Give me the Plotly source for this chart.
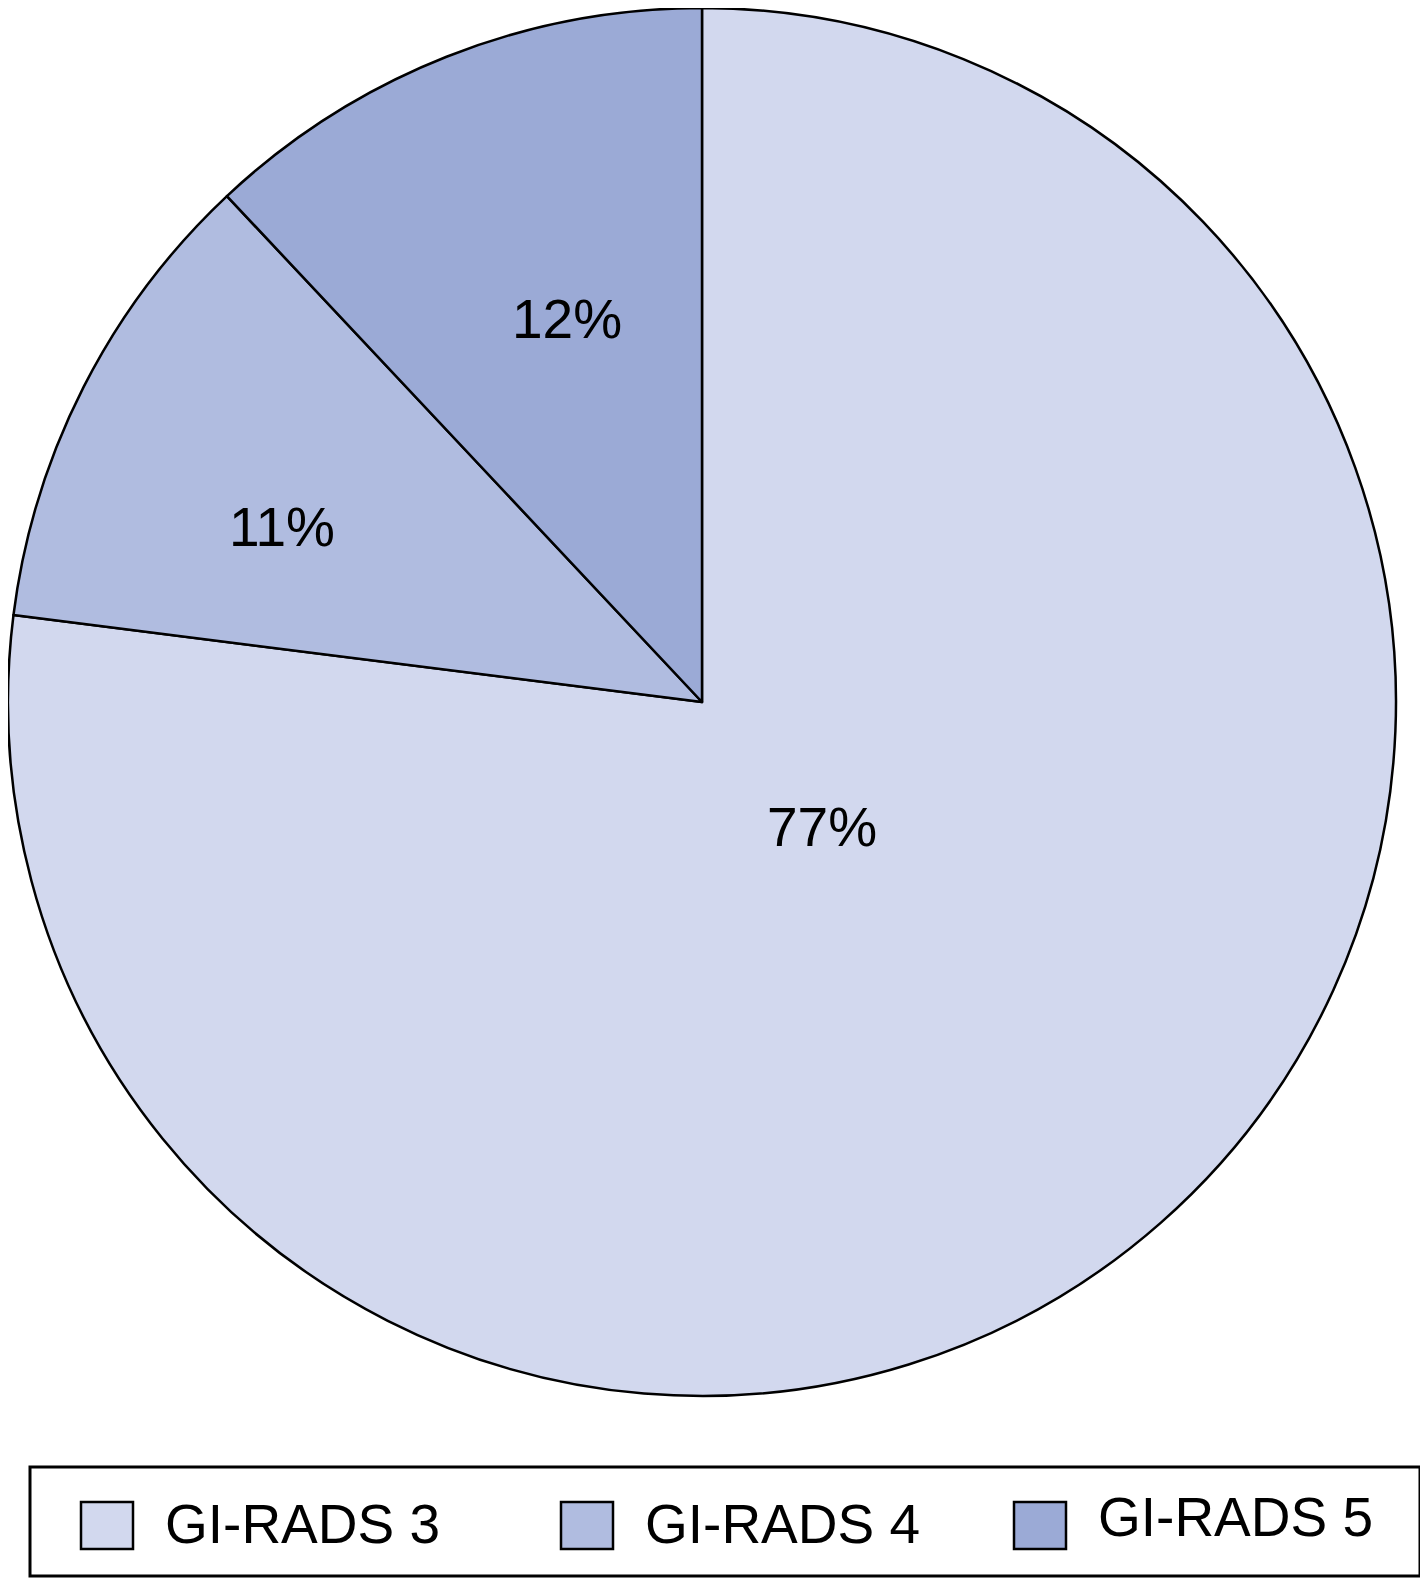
import math

import plotly.graph_objects as go

# ── Data ──────────────────────────────────────────────────────────────────────
CATEGORIES = ["GI-RADS 3", "GI-RADS 4", "GI-RADS 5"]
SHARES = [77, 11, 12]
COLORS = ["#D2D8EE", "#B0BCE0", "#9BAAD6"]

# page body adds an 8px margin, so the figure is a bit smaller than the window
OFF = 8
W, H = 1428 - OFF, 1579 - OFF
FONT = "Liberation Sans, Arial, sans-serif"

# pie geometry in figure pixels
CX, CY, R = 694, 694, 694
# label placement: fraction of radius and angle nudge (deg) from mid-angle
LABEL_R = [0.25, 0.655, 0.585]
LABEL_DA = [-2.4, -4.4, 2.2]


def px_x(x):
    return x / W


def px_y(y):
    return 1 - y / H


fig = go.Figure(
    go.Pie(
        labels=CATEGORIES,
        values=SHARES,
        sort=False,
        direction="clockwise",
        rotation=0,
        marker=dict(colors=COLORS, line=dict(color="black", width=2.5)),
        textinfo="none",
        domain=dict(x=[max(0, px_x(CX - R)), px_x(CX + R)],
                    y=[px_y(CY + R), min(1, px_y(CY - R))]),
        showlegend=False,
        hoverinfo="label+percent",
    )
)

annotations = []

# ── Slice labels, placed along each slice's mid-angle ─────────────────────────
total = sum(SHARES)
cum = 0
for val, frac, da in zip(SHARES, LABEL_R, LABEL_DA):
    mid = (cum + val / 2) / total * 2 * math.pi + math.radians(da)
    cum += val
    x = CX + frac * R * math.sin(mid)
    y = CY - frac * R * math.cos(mid)
    annotations.append(dict(text=f"{val}%", xref="paper", yref="paper",
                            x=px_x(x), y=px_y(y), showarrow=False,
                            xanchor="center", yanchor="middle",
                            font=dict(family=FONT, size=55, color="black")))

# ── Legend (drawn by hand so swatches can be large) ───────────────────────────
shapes = [
    dict(type="rect", xref="paper", yref="paper",
         x0=px_x(30 - OFF), x1=px_x(1420 - OFF),
         y0=px_y(1576 - OFF), y1=px_y(1467 - OFF),
         line=dict(color="black", width=3), fillcolor="white", layer="below")
]
item_x = [81, 561, 1014]
text_gap = 30
for i, (name, col) in enumerate(zip(CATEGORIES, COLORS)):
    x0 = item_x[i] - OFF
    shapes.append(dict(type="rect", xref="paper", yref="paper",
                       x0=px_x(x0), x1=px_x(x0 + 52),
                       y0=px_y(1549 - OFF), y1=px_y(1502 - OFF),
                       line=dict(color="black", width=2.5), fillcolor=col))
    annotations.append(dict(text=name, xref="paper", yref="paper",
                            x=px_x(x0 + 52 + text_gap),
                            y=px_y(1524 - OFF - (7 if i == 2 else 0)),
                            xanchor="left", yanchor="middle", showarrow=False,
                            font=dict(family=FONT, size=55, color="black")))

fig.update_layout(
    width=W,
    height=H,
    margin=dict(l=0, r=0, t=0, b=0),
    paper_bgcolor="white",
    plot_bgcolor="white",
    shapes=shapes,
    annotations=annotations,
)

fig.write_html("out.html")
